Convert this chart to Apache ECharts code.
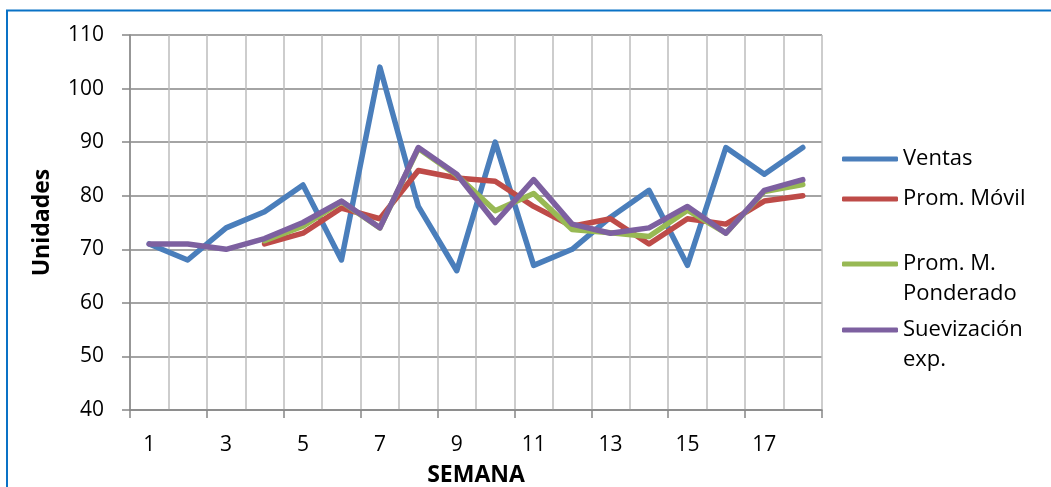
<!DOCTYPE html>
<html>
<head>
<meta charset="utf-8">
<script src="https://cdn.jsdelivr.net/npm/echarts@6/dist/echarts.min.js"></script>
<style>
html,body{margin:0;padding:0;background:#fff;}
#c{width:1051px;height:487px;}
</style>
</head>
<body>
<div id="c"></div>
<script>
const semanas = ['1','2','3','4','5','6','7','8','9','10','11','12','13','14','15','16','17','18'];
const ventas = [71, 68, 74, 77, 82, 68, 104, 78, 66, 90, 67, 70, 76, 81, 67, 89, 84, 89];
const promMovil = [null, null, null, 71, 73, 77.7, 75.7, 84.7, 83.3, 82.7, 78, 74.3, 75.7, 71, 75.7, 74.7, 79, 80];
const promPonderado = [null, null, null, 71.6, 74.3, 78.9, 74, 88.8, 83.8, 77.2, 80.4, 73.7, 73.1, 72.4, 77.3, 73, 80.8, 82.1];
const suavExp = [71, 71, 70, 72, 75, 79, 74, 89, 84, 75, 83, 74.7, 73, 74, 78, 73, 81, 83];
const yTicks = {min: 40, max: 110, interval: 10};
const names = ['Ventas', 'Prom. Móvil', 'Prom. M. Ponderado', 'Suevización exp.'];
const colors = ['#4A7EBB', '#BE4B48', '#98B954', '#7D60A0'];

const FONT = 'Open Sans';
const chart = echarts.init(document.getElementById('c'));

function mkSeries(name, data, color, z) {
  return {
    name: name, type: 'line', data: data, symbol: 'none', z: z,
    lineStyle: {color: color, width: 5.5, cap: 'round', join: 'round'},
    itemStyle: {color: color}
  };
}
const legendCenters = [159, 199, 264, 330];
const legendLabels = ['Ventas', 'Prom. Móvil', 'Prom. M.', 'Suevización'];
const legends = names.map((n, i) => ({
  data: [n], left: 842, top: legendCenters[i] - 13, padding: 0,
  itemWidth: 56, itemHeight: 5, icon: 'roundRect',
  formatter: () => legendLabels[i],
  textStyle: {fontFamily: FONT, fontSize: 22, color: '#000', lineHeight: 26, height: 26},
  selectedMode: false
}));

chart.setOption({
  animation: false,
  textStyle: {fontFamily: FONT},
  grid: {left: 130, right: 229, top: 35, bottom: 77, outerBoundsMode: 'none'},
  legend: legends,
  graphic: [
    {type: 'rect', shape: {x: 7, y: 10.5, width: 1200, height: 600}, style: {fill: 'none', stroke: '#0A72C6', lineWidth: 2}, silent: true},
    {type: 'text', left: 903, top: 283, style: {text: 'Ponderado', font: '22px "' + FONT + '"', fill: '#000'}},
    {type: 'text', left: 903, top: 349, style: {text: 'exp.', font: '22px "' + FONT + '"', fill: '#000'}}
  ],
  xAxis: {
    type: 'category', data: semanas, boundaryGap: true,
    name: 'SEMANA', nameLocation: 'middle', nameGap: 54,
    nameTextStyle: {fontFamily: FONT, fontWeight: 'bold', fontSize: 23, color: '#000'},
    axisLine: {show: true, lineStyle: {color: '#868686', width: 1.5}},
    axisTick: {show: true, interval: 1, length: 8, lineStyle: {color: '#868686', width: 1.5}},
    axisLabel: {interval: 1, margin: 25, fontFamily: FONT, fontSize: 21, color: '#000'},
    splitLine: {show: true, interval: 0, lineStyle: {color: '#BDBDBD', width: 1.5}}
  },
  yAxis: {
    type: 'value', min: yTicks.min, max: yTicks.max, interval: yTicks.interval,
    name: 'Unidades', nameLocation: 'middle', nameGap: 76, nameRotate: 90,
    nameTextStyle: {fontFamily: FONT, fontWeight: 'bold', fontSize: 23, color: '#000'},
    axisLine: {show: true, lineStyle: {color: '#868686', width: 1.5}},
    axisTick: {show: true, length: 8, lineStyle: {color: '#868686', width: 1.5}},
    axisLabel: {margin: 26, fontFamily: FONT, fontSize: 21, color: '#000'},
    splitLine: {show: true, lineStyle: {color: '#868686', width: 1.5}}
  },
  series: [
    mkSeries(names[0], ventas, colors[0], 2),
    mkSeries(names[1], promMovil, colors[1], 3),
    mkSeries(names[2], promPonderado, colors[2], 4),
    mkSeries(names[3], suavExp, colors[3], 5)
  ]
});
</script>
</body>
</html>
